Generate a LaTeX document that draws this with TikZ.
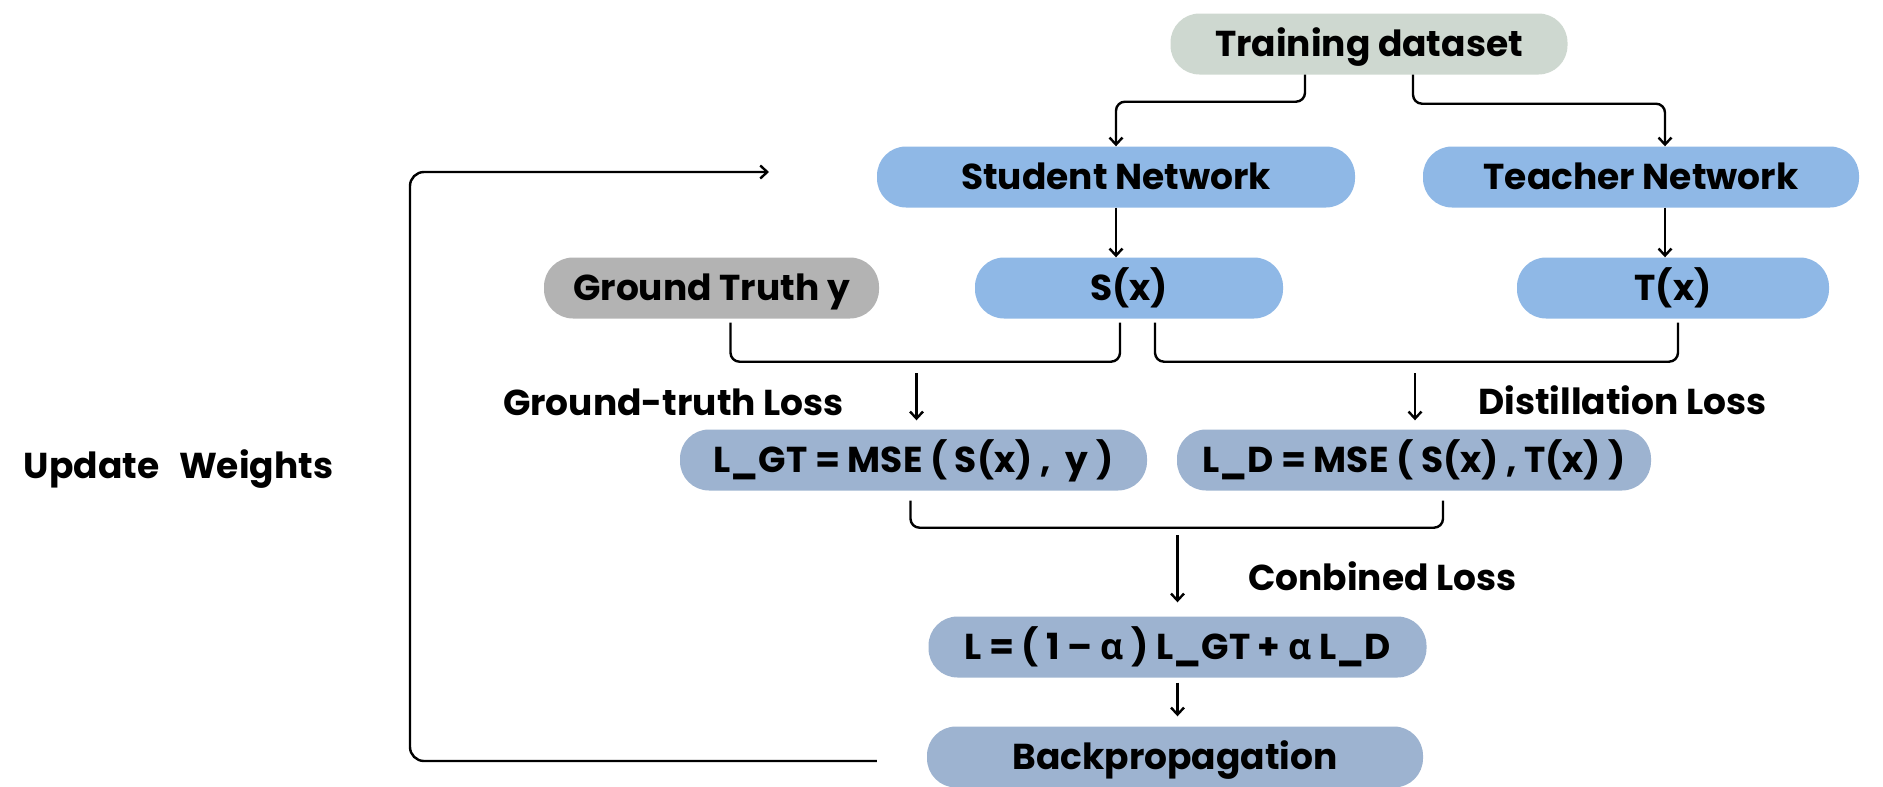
\documentclass[tikz,border=0pt]{standalone}
\usepackage{fontspec}
\setmainfont{Poppins}
\newfontfamily\grk{Open Sans}
\usetikzlibrary{arrows.meta,calc}
\definecolor{dataC}{HTML}{CED8D0}
\definecolor{netC}{HTML}{8FB8E6}
\definecolor{gtC}{HTML}{B3B3B3}
\definecolor{lossC}{HTML}{9DB3D0}
\newcommand{\txtfont}{\fontsize{36}{42}\selectfont\bfseries}
\begin{document}
\begin{tikzpicture}[x=1pt,y=-1pt,
  box/.style={rounded corners=29pt, minimum height=61pt, inner sep=0pt,
    text height=25pt, text depth=0pt, font=\txtfont, text=black},
  lbl/.style={inner sep=0pt, text height=25pt, text depth=0pt, font=\txtfont},
  link/.style={line width=2.4pt, rounded corners=9pt},
  arr/.style={link, -{Straight Barb[length=7pt,width=13pt,line width=2.4pt]}}]
\useasboundingbox (0,0) rectangle (1883,787);

% boxes
\node[box, fill=dataC, minimum width=397pt] (data)  at (1369,44)   {Training dataset};
\node[box, fill=netC,  minimum width=478pt] (stud)  at (1116,177)  {Student Network};
\node[box, fill=netC,  minimum width=436pt] (teach) at (1641,177)  {Teacher Network};
\node[box, fill=gtC,   minimum width=335pt] (gt)    at (711.5,288) {Ground Truth y};
\node[box, fill=netC,  minimum width=308pt] (sx)    at (1129,288)  {S(x)};
\node[box, fill=netC,  minimum width=312pt] (tx)    at (1673,288)  {T(x)};
\node[box, fill=lossC, minimum width=467pt] (lgt)   at (913.5,460) {L\_GT = MSE ( S(x) ,\ \ y )};
\node[box, fill=lossC, minimum width=474pt] (ld)    at (1414,460)  {L\_D = MSE ( S(x) , T(x) )};
\node[box, fill=lossC, minimum width=498pt] (lsum)  at (1177.5,647)
  {L = ( 1 – {\grk\bfseries α} ) L\_GT + {\grk\bfseries α} L\_D};
\node[box, fill=lossC, minimum width=496pt] (bp)    at (1175,757)  {Backpropagation};

% labels
\node[lbl] (lgtl) at (673.5,403) {Ground-truth Loss};
\node[lbl] (ldl)  at (1622.5,402) {Distillation Loss};
\node[lbl] (lcl)  at (1382.5,578) {Conbined Loss};
\node[lbl] (upd)  at (178.5,466) {Update\hspace{0.55em}Weights};

% dataset to both networks
\draw[arr] ([xshift=-64pt]data.south) -- ++(0,27) -| (stud.north);
\draw[arr] ([xshift=44pt]data.south) -- ++(0,29) -| ([xshift=24pt]teach.north);

% network outputs
\draw[arr] (stud.south) -- (stud.south |- sx.north);
\draw[arr] ([xshift=24pt]teach.south) -- ([xshift=24pt]teach.south |- tx.north);

% brackets joining outputs
\draw[link] ([xshift=19pt,yshift=-4pt]gt.south) -- ++(0,39) -| ([xshift=-9pt,yshift=-4pt]sx.south);
\draw[link] ([xshift=26pt,yshift=-4pt]sx.south) -- ++(0,39) -| ([xshift=5pt,yshift=-4pt]tx.south);

% into the two losses
\draw[arr] ($(lgt.north)+(3,-56)$) -- ($(lgt.north)+(3,-9)$);
\draw[arr] ($(ld.north)+(1,-56)$) -- ($(ld.north)+(1,-9)$);

% losses combined
\draw[link] ([xshift=-3pt,yshift=-10pt]lgt.south) -- ++(0,27) -| ([xshift=29pt,yshift=-10pt]ld.south);
\draw[arr] ($(lsum.north)+(0,-81)$) -- ($(lsum.north)+(0,-14)$);
\draw[arr] ([yshift=-5pt]lsum.south) -- ($(lsum.south |- bp.north)+(0,-10)$);

% feedback loop
\coordinate (fbend) at (769,172);
\draw[arr, rounded corners=14pt] ([xshift=-50pt,yshift=-4pt]bp.west) -- (410,761) -- (410,172) -- (fbend);
\end{tikzpicture}
\end{document}
